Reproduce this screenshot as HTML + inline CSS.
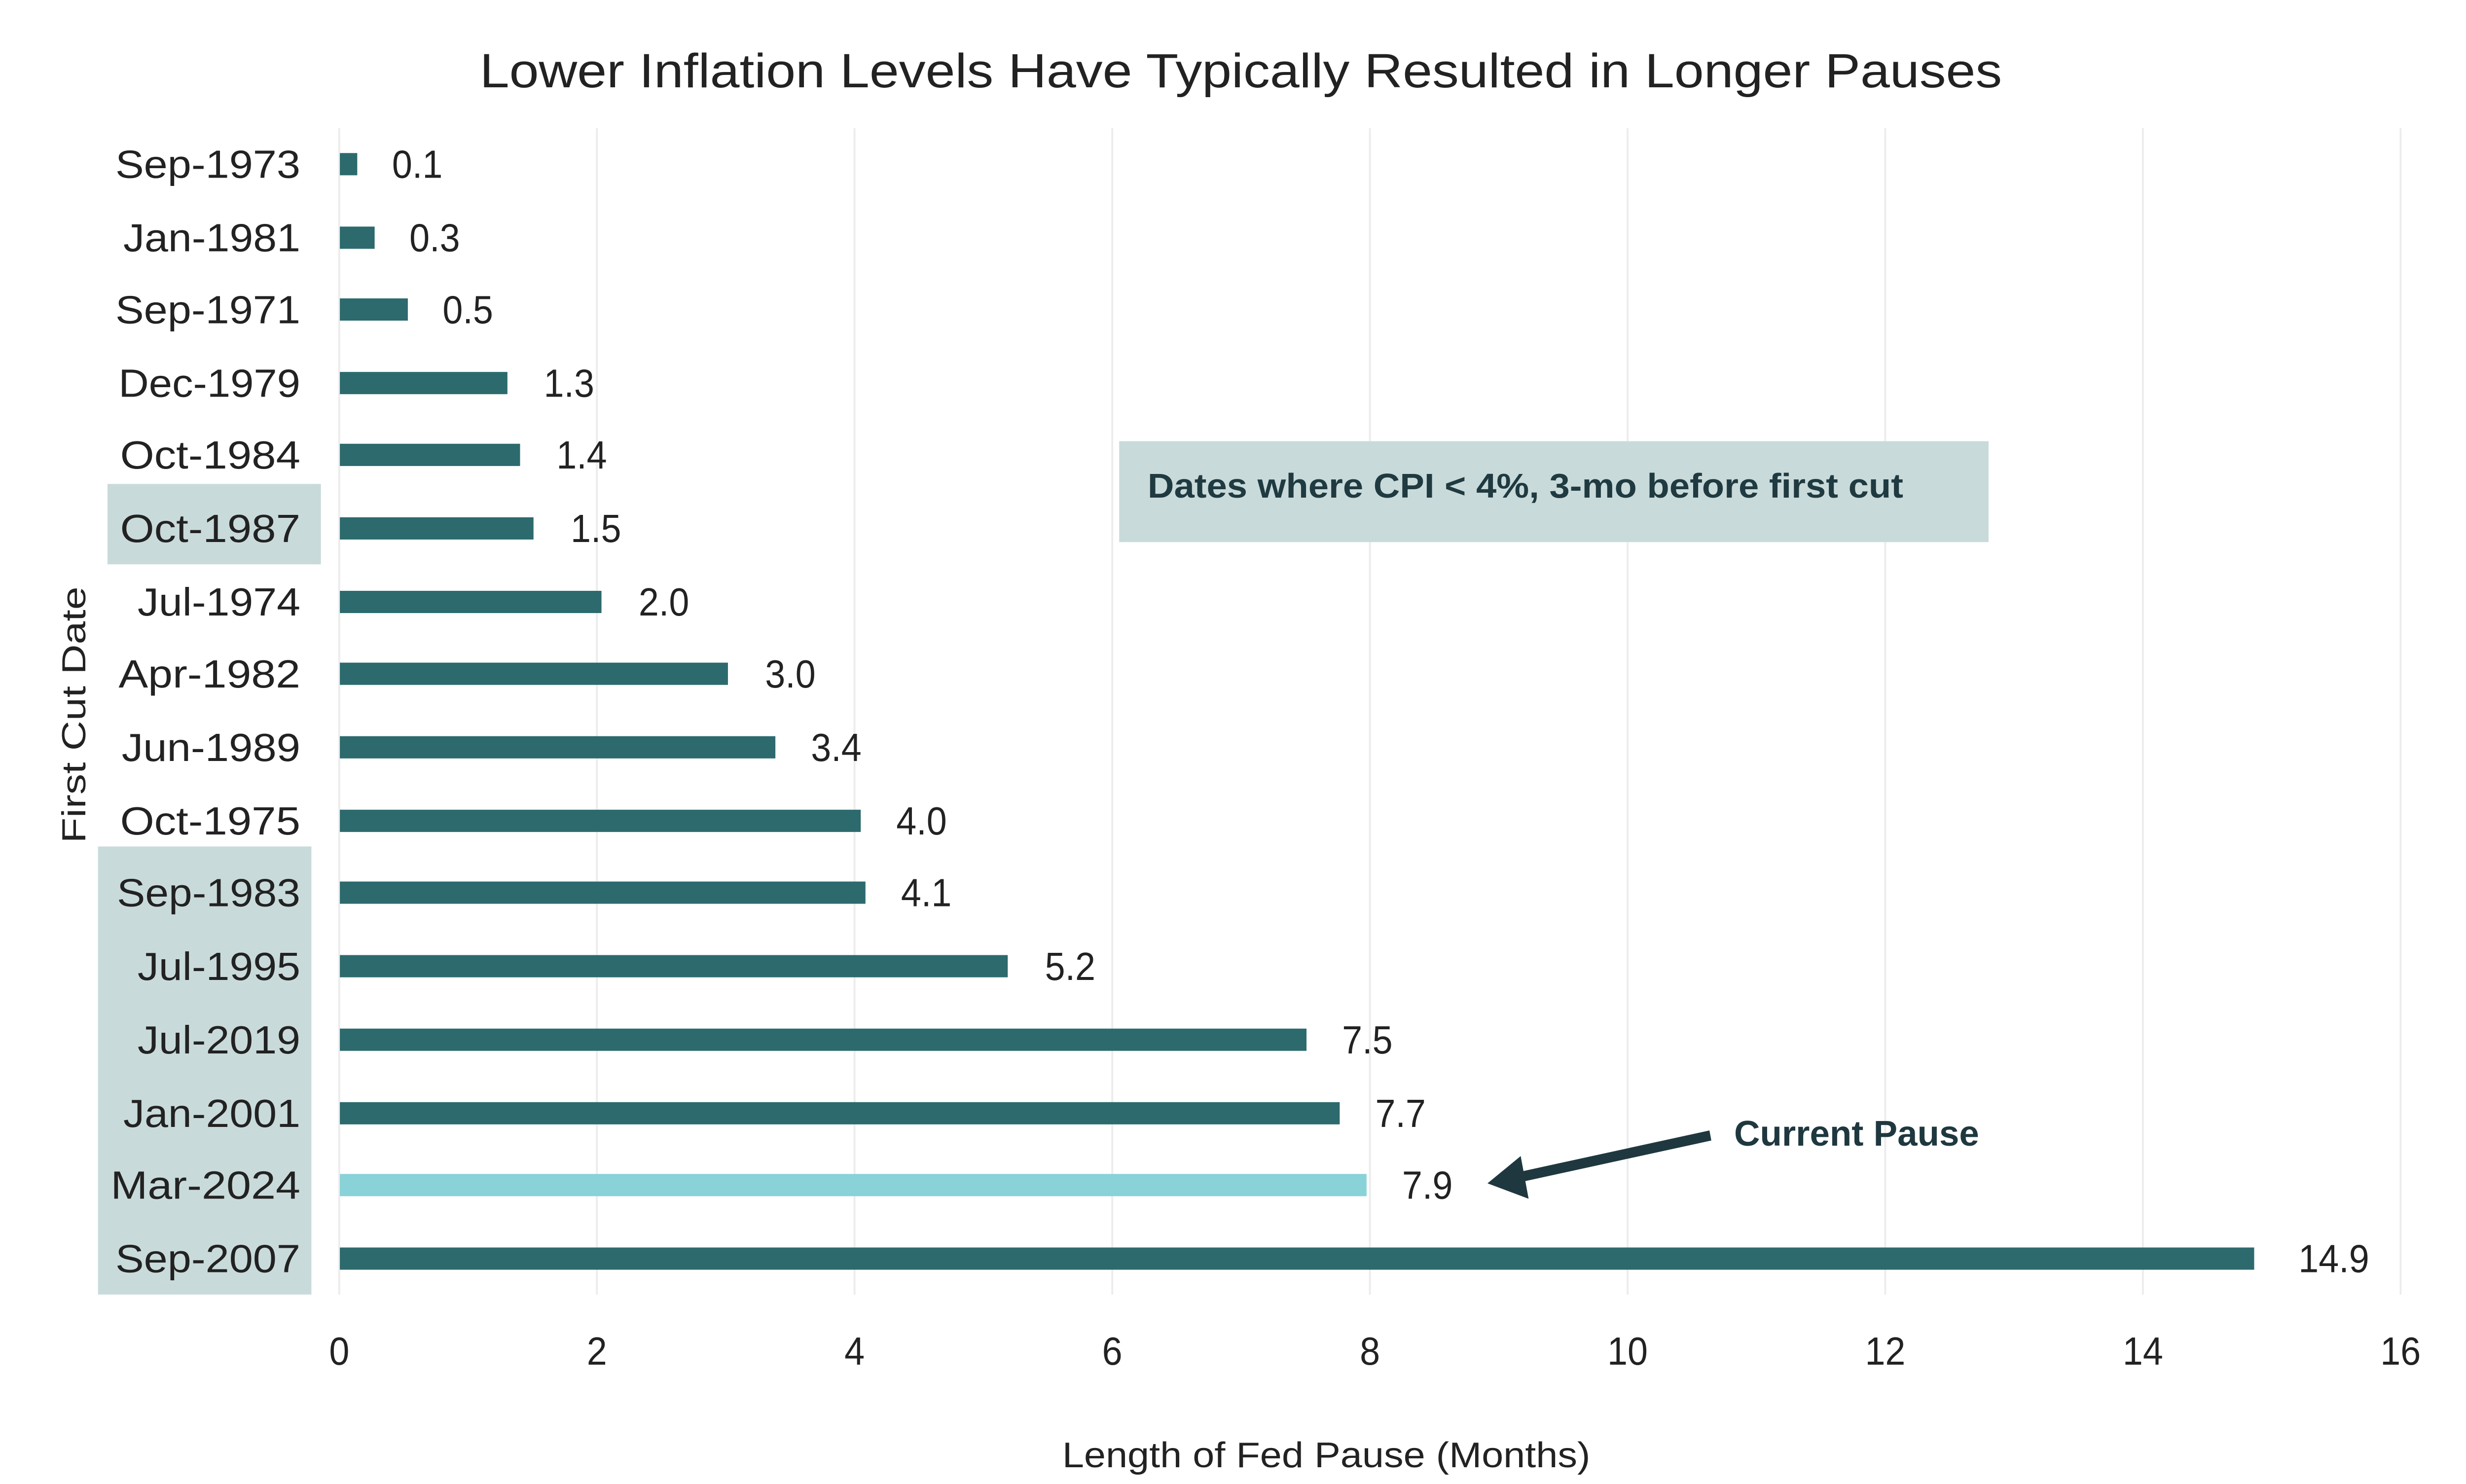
<!DOCTYPE html>
<html><head><meta charset="utf-8"><style>
html,body{margin:0;padding:0;background:#fff;width:100%;height:100%;overflow:hidden}
svg{display:block;position:fixed;left:0;top:0;width:100vw;height:100vh}
text{font-family:"Liberation Sans",sans-serif;fill:#222}
</style></head><body>
<svg viewBox="0 0 1560 867.8" preserveAspectRatio="none" xmlns="http://www.w3.org/2000/svg">
<rect width="1560" height="868" fill="#fff"/>
<text x="785" y="51" font-size="28" text-anchor="middle" textLength="963" lengthAdjust="spacingAndGlyphs">Lower Inflation Levels Have Typically Resulted in Longer Pauses</text>
<g stroke="#ececec" stroke-width="1.2">
<line x1="214.6" y1="75" x2="214.6" y2="757"/><line x1="377.6" y1="75" x2="377.6" y2="757"/>
<line x1="540.6" y1="75" x2="540.6" y2="757"/><line x1="703.6" y1="75" x2="703.6" y2="757"/>
<line x1="866.6" y1="75" x2="866.6" y2="757"/><line x1="1029.6" y1="75" x2="1029.6" y2="757"/>
<line x1="1192.6" y1="75" x2="1192.6" y2="757"/><line x1="1355.6" y1="75" x2="1355.6" y2="757"/>
<line x1="1518.6" y1="75" x2="1518.6" y2="757"/>
</g>
<rect x="68" y="283" width="135" height="47" fill="#c9dada"/>
<rect x="62" y="495" width="135" height="262" fill="#c9dada"/>
<rect x="708" y="258" width="550" height="59" fill="#c9dada"/>
<text x="726" y="291" font-size="20" font-weight="bold" style="fill:#1f3a40" textLength="478" lengthAdjust="spacingAndGlyphs">Dates where CPI &lt; 4%, 3-mo before first cut</text>
<g fill="#2c6a6e">
<rect x="215" y="89.5" width="11" height="13"/>
<rect x="215" y="132.5" width="22" height="13"/>
<rect x="215" y="174.5" width="43" height="13"/>
<rect x="215" y="217.5" width="106" height="13"/>
<rect x="215" y="259.5" width="114" height="13"/>
<rect x="215" y="302.5" width="122.5" height="13"/>
<rect x="215" y="345.5" width="165.5" height="13"/>
<rect x="215" y="387.5" width="245.5" height="13"/>
<rect x="215" y="430.5" width="275.5" height="13"/>
<rect x="215" y="473.5" width="329.5" height="13"/>
<rect x="215" y="515.5" width="332.5" height="13"/>
<rect x="215" y="558.5" width="422.5" height="13"/>
<rect x="215" y="601.5" width="611.5" height="13"/>
<rect x="215" y="644.5" width="632.5" height="13"/>
<rect x="215" y="729.5" width="1211" height="13"/>
</g>
<rect x="215" y="686.5" width="649.5" height="13" fill="#88d2d8"/>
<g font-size="23" text-anchor="end">
<text x="190" y="104" textLength="117" lengthAdjust="spacingAndGlyphs">Sep-1973</text>
<text x="190" y="147" textLength="112" lengthAdjust="spacingAndGlyphs">Jan-1981</text>
<text x="190" y="189" textLength="117" lengthAdjust="spacingAndGlyphs">Sep-1971</text>
<text x="190" y="232" textLength="115" lengthAdjust="spacingAndGlyphs">Dec-1979</text>
<text x="190" y="274" textLength="114" lengthAdjust="spacingAndGlyphs">Oct-1984</text>
<text x="190" y="317" textLength="114" lengthAdjust="spacingAndGlyphs">Oct-1987</text>
<text x="190" y="360" textLength="103" lengthAdjust="spacingAndGlyphs">Jul-1974</text>
<text x="190" y="402" textLength="115" lengthAdjust="spacingAndGlyphs">Apr-1982</text>
<text x="190" y="445" textLength="113" lengthAdjust="spacingAndGlyphs">Jun-1989</text>
<text x="190" y="488" textLength="114" lengthAdjust="spacingAndGlyphs">Oct-1975</text>
<text x="190" y="530" textLength="116" lengthAdjust="spacingAndGlyphs">Sep-1983</text>
<text x="190" y="573" textLength="103" lengthAdjust="spacingAndGlyphs">Jul-1995</text>
<text x="190" y="616" textLength="103" lengthAdjust="spacingAndGlyphs">Jul-2019</text>
<text x="190" y="659" textLength="112" lengthAdjust="spacingAndGlyphs">Jan-2001</text>
<text x="190" y="701" textLength="120" lengthAdjust="spacingAndGlyphs">Mar-2024</text>
<text x="190" y="744" textLength="117" lengthAdjust="spacingAndGlyphs">Sep-2007</text>
</g>
<g font-size="23">
<text x="248" y="104">0.1</text>
<text x="259" y="147">0.3</text>
<text x="280" y="189">0.5</text>
<text x="344" y="232">1.3</text>
<text x="352" y="274">1.4</text>
<text x="361" y="317">1.5</text>
<text x="404" y="360">2.0</text>
<text x="484" y="402">3.0</text>
<text x="513" y="445">3.4</text>
<text x="567" y="488">4.0</text>
<text x="570" y="530">4.1</text>
<text x="661" y="573">5.2</text>
<text x="849" y="616">7.5</text>
<text x="870" y="659">7.7</text>
<text x="887" y="701">7.9</text>
<text x="1454" y="744">14.9</text>
</g>
<line x1="1082" y1="664" x2="958" y2="689" stroke="#1f3840" stroke-width="6"/>
<polygon points="941,692 962,676 967,701" fill="#1f3840"/>
<text x="1097" y="670" font-size="21" font-weight="bold" style="fill:#1f3840" textLength="155" lengthAdjust="spacingAndGlyphs">Current Pause</text>
<g font-size="23" text-anchor="middle">
<text x="214.6" y="798">0</text><text x="377.6" y="798">2</text><text x="540.6" y="798">4</text>
<text x="703.6" y="798">6</text><text x="866.6" y="798">8</text><text x="1029.6" y="798">10</text>
<text x="1192.6" y="798">12</text><text x="1355.6" y="798">14</text><text x="1518.6" y="798">16</text>
</g>
<text x="839" y="858" font-size="21" text-anchor="middle" textLength="334" lengthAdjust="spacingAndGlyphs">Length of Fed Pause (Months)</text>
<text transform="translate(54,418) rotate(-90)" font-size="21" text-anchor="middle" textLength="150" lengthAdjust="spacingAndGlyphs">First Cut Date</text>
</svg>
</body></html>
